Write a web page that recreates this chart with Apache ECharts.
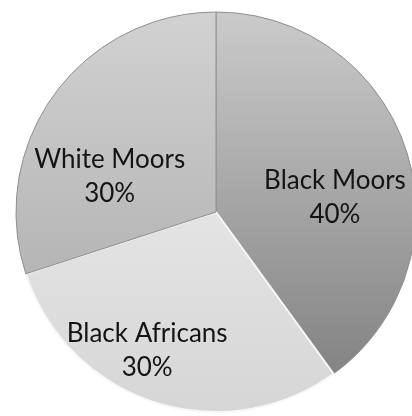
<!DOCTYPE html>
<html>
<head>
<meta charset="utf-8">
<script src="https://cdn.jsdelivr.net/npm/echarts@6/dist/echarts.min.js"></script>
<style>
  html, body { margin: 0; padding: 0; background: #fff; }
  #chart { width: 412px; height: 416px; }
</style>
</head>
<body>
<div id="chart"></div>
<script>
// slices clockwise from 12 o'clock
const groups = ['Black Moors', 'Black Africans', 'White Moors'];
const shares = [40, 30, 30];

// grey shades, top -> bottom of the pie
const shadeTop = ['#cbcbcb', '#f2f2f2', '#d2d2d2'];
const shadeBottom = ['#7c7c7c', '#d6d6d6', '#a6a6a6'];
// nudges from the default inside-label spot
const labelNudge = [[21, 17], [-37, 41], [-23, 25]];

const chart = echarts.init(document.getElementById('chart'));

function shade(i) {
  return new echarts.graphic.LinearGradient(0, 10, 0, 412, [
    { offset: 0, color: shadeTop[i] },
    { offset: 1, color: shadeBottom[i] }
  ], true);
}

const pieData = groups.map((name, i) => ({
  name: name,
  value: shares[i],
  itemStyle: {
    color: shade(i),
    borderColor: i === 1 ? '#f7f7f7' : '#8f8f8f',
    borderWidth: i === 1 ? 2 : 1
  },
  label: { offset: labelNudge[i] }
}));

const option = {
  backgroundColor: '#ffffff',
  animation: false,
  series: [{
    type: 'pie',
    center: [216, 212],
    radius: 200,
    startAngle: 90,
    clockwise: true,
    percentPrecision: 0,
    label: {
      show: true,
      position: 'inside',
      formatter: '{b}\n{d}%',
      fontFamily: 'Lato',
      fontSize: 26,
      lineHeight: 34,
      color: '#141414'
    },
    labelLine: { show: false },
    emphasis: { disabled: true },
    data: pieData
  }]
};

chart.setOption(option);
</script>
</body>
</html>
